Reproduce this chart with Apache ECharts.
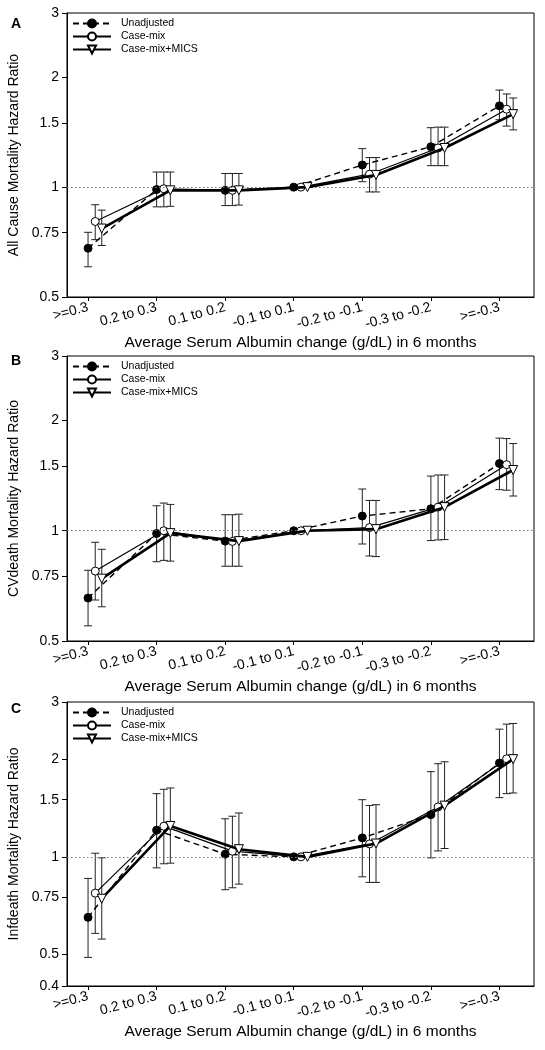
<!DOCTYPE html>
<html><head><meta charset="utf-8">
<script src="https://cdn.jsdelivr.net/npm/echarts@6/dist/echarts.min.js"></script>
<style>html,body{margin:0;padding:0;background:#fff}#c{width:545px;height:1050px}</style>
</head><body><div id="c"></div>
<script>
const categories = ['>=0.3', '0.2 to 0.3', '0.1 to 0.2', '-0.1 to 0.1', '-0.2 to -0.1', '-0.3 to -0.2', '>=-0.3'];
const seriesNames = ['Unadjusted', 'Case-mix', 'Case-mix+MICS'];
const xAxisName = 'Average Serum Albumin change (g/dL) in 6 months';
const yTicksAB = [0.5, 0.75, 1, 1.5, 2, 3];
const yTicksC = [0.4, 0.5, 0.75, 1, 1.5, 2, 3];

// Panel A: All cause mortality
const A_unadj_hr = [0.68, 0.985, 0.98, 1.0, 1.15, 1.29, 1.67];
const A_unadj_lo = [0.605, 0.883, 0.89, null, 1.035, 1.145, 1.53];
const A_unadj_hi = [0.752, 1.10, 1.09, null, 1.275, 1.455, 1.845];
const A_cm_hr = [0.805, 0.99, 0.98, 1.0, 1.085, 1.28, 1.635];
const A_cm_lo = [0.718, 0.883, 0.89, null, 0.97, 1.145, 1.47];
const A_cm_hi = [0.895, 1.10, 1.09, null, 1.205, 1.46, 1.80];
const A_mics_hr = [0.77, 0.98, 0.98, 1.0, 1.08, 1.28, 1.585];
const A_mics_lo = [0.692, 0.886, 0.893, null, 0.97, 1.145, 1.435];
const A_mics_hi = [0.865, 1.10, 1.09, null, 1.205, 1.46, 1.755];

// Panel B: CV death
const B_unadj_hr = [0.655, 0.983, 0.937, 1.0, 1.097, 1.148, 1.525];
const B_unadj_lo = [0.55, 0.823, 0.80, null, 0.92, 0.94, 1.295];
const B_unadj_hi = [0.78, 1.17, 1.106, null, 1.30, 1.41, 1.79];
const B_cm_hr = [0.776, 1.0, 0.935, 1.0, 1.02, 1.16, 1.515];
const B_cm_lo = [0.647, 0.83, 0.80, null, 0.853, 0.944, 1.29];
const B_cm_hi = [0.93, 1.19, 1.106, null, 1.21, 1.42, 1.785];
const B_mics_hr = [0.74, 0.985, 0.937, 1.0, 1.01, 1.16, 1.465];
const B_mics_lo = [0.62, 0.826, 0.80, null, 0.85, 0.946, 1.244];
const B_mics_hi = [0.89, 1.18, 1.11, null, 1.21, 1.42, 1.73];

// Panel C: Infection death
const C_unadj_hr = [0.651, 1.208, 1.019, 1.0, 1.144, 1.349, 1.945];
const C_unadj_lo = [0.49, 0.925, 0.792, null, 0.868, 0.993, 1.522];
const C_unadj_hi = [0.858, 1.566, 1.31, null, 1.50, 1.83, 2.474];
const C_cm_hr = [0.773, 1.243, 1.041, 1.0, 1.096, 1.425, 2.005];
const C_cm_lo = [0.581, 0.952, 0.803, null, 0.834, 1.043, 1.566];
const C_cm_hi = [1.026, 1.615, 1.334, null, 1.44, 1.936, 2.564];
const C_mics_hr = [0.743, 1.245, 1.056, 1.0, 1.099, 1.438, 2.0];
const C_mics_lo = [0.558, 0.956, 0.824, null, 0.834, 1.061, 1.573];
const C_mics_hi = [0.993, 1.63, 1.365, null, 1.448, 1.963, 2.576];

const panels = [
  { letter: 'A', yName: 'All Cause Mortality Hazard Ratio', top: 13, height: 284, ymin: 0.5, ticks: yTicksAB, legendTop: 18, letterTop: 17,
    s: [[A_unadj_hr, A_unadj_lo, A_unadj_hi], [A_cm_hr, A_cm_lo, A_cm_hi], [A_mics_hr, A_mics_lo, A_mics_hi]] },
  { letter: 'B', yName: 'CVdeath Mortality Hazard Ratio', top: 356, height: 285, ymin: 0.5, ticks: yTicksAB, legendTop: 361, letterTop: 354,
    s: [[B_unadj_hr, B_unadj_lo, B_unadj_hi], [B_cm_hr, B_cm_lo, B_cm_hi], [B_mics_hr, B_mics_lo, B_mics_hi]] },
  { letter: 'C', yName: 'Infdeath Mortality Hazard Ratio', top: 702, height: 284, ymin: 0.4, ticks: yTicksC, legendTop: 707, letterTop: 702,
    s: [[C_unadj_hr, C_unadj_lo, C_unadj_hi], [C_cm_hr, C_cm_lo, C_cm_hi], [C_mics_hr, C_mics_lo, C_mics_hi]] }
];

const offsets = [0, 0.105, 0.2];
const styles = [
  { lineStyle: { color: '#000', width: 1.4, type: [6, 4] }, symbol: 'circle', symbolSize: 8, symbolRotate: 0,
    itemStyle: { color: '#000', borderColor: '#000', borderWidth: 1 } },
  { lineStyle: { color: '#000', width: 1.2, type: 'solid' }, symbol: 'circle', symbolSize: 8, symbolRotate: 0,
    itemStyle: { color: '#fff', borderColor: '#000', borderWidth: 1 } },
  { lineStyle: { color: '#000', width: 2.6, type: 'solid' }, symbol: 'triangle', symbolSize: 9, symbolRotate: 180,
    itemStyle: { color: '#fff', borderColor: '#000', borderWidth: 1 } }
];

const fmt = v => String(Number(Number(v).toPrecision(6)));
const FONT = 'Liberation Sans, Arial, sans-serif';

const option = { animation: false, backgroundColor: '#fff',
  textStyle: { fontFamily: FONT, color: '#000' },
  grid: [], xAxis: [], yAxis: [], series: [], legend: [], title: [] };

panels.forEach((p, pi) => {
  option.grid.push({ left: 67, right: 11, top: p.top, height: p.height, show: true, borderColor: '#000', borderWidth: 1,
    backgroundColor: 'transparent', containLabel: false, outerBoundsMode: 'none' });
  option.title.push({ text: p.letter, left: 11, top: p.letterTop, padding: 0,
    textStyle: { fontSize: 14, fontWeight: 'bold', color: '#000', fontFamily: FONT } });
  option.xAxis.push({ gridIndex: pi, type: 'value', min: -0.307, max: 6.504,
    name: xAxisName, nameLocation: 'middle', nameGap: 38,
    nameTextStyle: { fontSize: 15.5, color: '#000' },
    axisLine: { show: true, onZero: false, lineStyle: { color: '#000', width: 1 } },
    axisTick: { show: true, inside: false, length: 4, lineStyle: { color: '#000' }, customValues: categories.map((c, i) => i) },
    axisLabel: { show: true, rotate: 15, margin: 10, fontSize: 14, color: '#000', customValues: categories.map((c, i) => i),
      formatter: v => categories[Math.round(v)] },
    splitLine: { show: false } });
  option.yAxis.push({ gridIndex: pi, type: 'log', logBase: 10, min: p.ymin, max: 3,
    name: p.yName, nameLocation: 'middle', nameGap: 44,
    nameTextStyle: { fontSize: 14, color: '#000' },
    axisLine: { show: true, onZero: false, lineStyle: { color: '#000', width: 1 } },
    axisTick: { show: true, inside: false, length: 5, lineStyle: { color: '#000' }, customValues: p.ticks },
    axisLabel: { show: true, margin: 8, fontSize: 14, color: '#000', customValues: p.ticks, formatter: fmt },
    splitLine: { show: false } });
  option.legend.push({ left: 72, top: p.legendTop, padding: 0, orient: 'vertical', itemWidth: 38, itemHeight: 10, itemGap: 2,
    textStyle: { fontSize: 10.5, color: '#000', padding: [0, 0, 0, 5] }, data: seriesNames.slice() });

  p.s.forEach((arr, si) => {
    const [hr, lo, hi] = arr;
    const off = offsets[si];
    const errData = [];
    hr.forEach((v, i) => { if (lo[i] != null && hi[i] != null) errData.push([i + off, lo[i], hi[i]]); });
    option.series.push({ type: 'custom', name: seriesNames[si] + ' CI', xAxisIndex: pi, yAxisIndex: pi, z: 1, silent: true,
      data: errData, encode: { x: 0, y: [1, 2] },
      renderItem: (params, api) => {
        const x = api.value(0);
        const a = api.coord([x, api.value(1)]);
        const b = api.coord([x, api.value(2)]);
        const w = 4;
        const st = { stroke: '#222', lineWidth: 1 };
        return { type: 'group', children: [
          { type: 'line', shape: { x1: a[0], y1: a[1], x2: b[0], y2: b[1] }, style: st },
          { type: 'line', shape: { x1: a[0] - w, y1: a[1], x2: a[0] + w, y2: a[1] }, style: st },
          { type: 'line', shape: { x1: b[0] - w, y1: b[1], x2: b[0] + w, y2: b[1] }, style: st }
        ] };
      } });
    const st = styles[si];
    const s = { type: 'line', name: seriesNames[si], xAxisIndex: pi, yAxisIndex: pi, z: 3 + si,
      data: hr.map((v, i) => [i + off, v]),
      symbol: st.symbol, symbolSize: st.symbolSize, symbolRotate: st.symbolRotate, showSymbol: true,
      lineStyle: st.lineStyle, itemStyle: st.itemStyle, emphasis: { disabled: true } };
    if (si === 0) {
      s.markLine = { silent: true, symbol: 'none', label: { show: false },
        lineStyle: { color: '#777', width: 1, type: [1.5, 2.5] }, data: [{ yAxis: 1 }] };
    }
    option.series.push(s);
  });
});

const chart = echarts.init(document.getElementById('c'), null, { renderer: 'canvas' });
chart.setOption(option);
</script>
</body></html>
